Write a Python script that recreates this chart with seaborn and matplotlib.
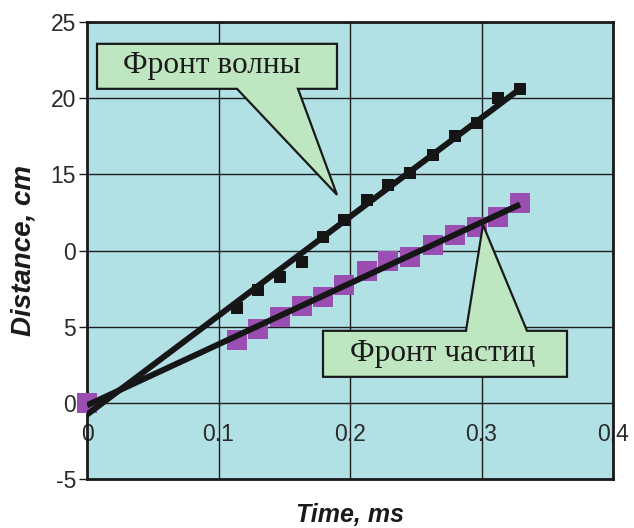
import numpy as np
import pandas as pd
import matplotlib
matplotlib.use("Agg")
import matplotlib.pyplot as plt
from matplotlib.patches import Polygon
import seaborn as sns

# ---- data ----
time_ms = [0.0, 0.1141, 0.1300, 0.1468, 0.1635, 0.1795, 0.1954, 0.2129,
           0.2289, 0.2456, 0.2631, 0.2798, 0.2966, 0.3125, 0.3293]
wave_front_cm = [0.0, 6.24, 7.42, 8.27, 9.26, 10.9, 12.0, 13.3,
                 14.3, 15.1, 16.3, 17.5, 18.4, 20.0, 20.6]
particle_front_cm = [0.0, 4.14, 4.86, 5.65, 6.37, 6.96, 7.75, 8.67,
                     9.32, 9.59, 10.37, 11.03, 11.56, 12.21, 13.13]

x_ticks = [0.0, 0.1, 0.2, 0.3, 0.4]
x_tick_labels = ["0", "0.1", "0.2", "0.3", "0.4"]
y_ticks = [-5, 0, 5, 10, 15, 20, 25]
y_tick_labels = ["-5", "0", "5", "0", "15", "20", "25"]

label_wave = "Фронт волны"
label_particles = "Фронт частиц"
x_label = "Time, ms"
y_label = "Distance, cm"

# ---- build frames ----
df = pd.DataFrame({"time": time_ms, "wave": wave_front_cm, "part": particle_front_cm})
t_fit = np.array([min(time_ms), max(time_ms)])
kw, bw = np.polyfit(time_ms, wave_front_cm, 1)
kp, bp = np.polyfit(time_ms, particle_front_cm, 1)
fit_wave = pd.DataFrame({"time": t_fit, "d": kw * t_fit + bw})
fit_part = pd.DataFrame({"time": t_fit, "d": kp * t_fit + bp})

sns.set_style("white")
plt.rcParams["font.family"] = ["Liberation Sans", "DejaVu Sans"]

fig = plt.figure(figsize=(6.34, 5.28), dpi=100)
fig.patch.set_facecolor("white")
ax = fig.add_axes([87 / 634, 1 - 479 / 528, 526 / 634, 457 / 528])
ax.set_facecolor("#B2E1E5")

sns.scatterplot(data=df, x="time", y="wave", marker="s", s=85, color="#141414",
                edgecolor="#141414", linewidth=0, ax=ax, zorder=3)
sns.scatterplot(data=df, x="time", y="part", marker="s", s=200, color="#9A4EB2",
                edgecolor="#9A4EB2", linewidth=0, ax=ax, zorder=4, clip_on=False)
sns.lineplot(data=fit_wave, x="time", y="d", color="#161616", linewidth=4.3, ax=ax,
             zorder=5, solid_capstyle="butt")
sns.lineplot(data=fit_part, x="time", y="d", color="#161616", linewidth=4.3, ax=ax,
             zorder=5, solid_capstyle="butt")

ax.set_xlim(0, 0.4)
ax.set_ylim(-5, 25)
ax.set_xticks(x_ticks)
ax.set_xticklabels(x_tick_labels)
ax.set_yticks(y_ticks)
ax.set_yticklabels(y_tick_labels)
ax.grid(True, color="#1e1e1e", linewidth=1.0)
ax.set_axisbelow(True)
for sp in ax.spines.values():
    sp.set_color("#1a1a1a")
    sp.set_linewidth(2.0)

ax.tick_params(axis="y", direction="out", length=6, width=1.0, color="#1a1a1a",
               labelsize=16.5, labelcolor="#2a2a2a", pad=2, left=True)
ax.tick_params(axis="x", length=0, labelsize=16.5, labelcolor="#2a2a2a", pad=-40)

ax.set_xlabel(x_label, fontsize=18, fontweight="bold", fontstyle="italic",
              color="#1a1a1a", labelpad=17)
ax.set_ylabel(y_label, fontsize=20, fontweight="bold", fontstyle="italic",
              color="#1a1a1a", labelpad=10)

# ---- callouts (pixel layout -> data coordinates) ----
def px(xp, yp):
    return ((xp - 87) / 1315.0, (403 - yp) / 15.233)

call1 = [px(97, 44), px(337, 44), px(337, 89), px(298, 89), px(337, 195),
         px(237, 89), px(97, 89)]
call2 = [px(323, 377), px(323, 331), px(466, 331), px(483, 225), px(527, 331),
         px(567, 331), px(567, 377)]
for poly in (call1, call2):
    ax.add_patch(Polygon(poly, closed=True, facecolor="#BEE6C0", edgecolor="#1a1a1a",
                         linewidth=1.6, zorder=6))

cx, cy = px(212, 66)
ax.text(cx, cy, label_wave, ha="center", va="center", fontsize=22.5,
        family=["Liberation Serif", "DejaVu Serif"], color="#1a1a1a", zorder=7)
cx, cy = px(443, 354)
ax.text(cx, cy, label_particles, ha="center", va="center", fontsize=22.5,
        family=["Liberation Serif", "DejaVu Serif"], color="#1a1a1a", zorder=7)

fig.savefig("out.png", dpi=100, facecolor="white")
